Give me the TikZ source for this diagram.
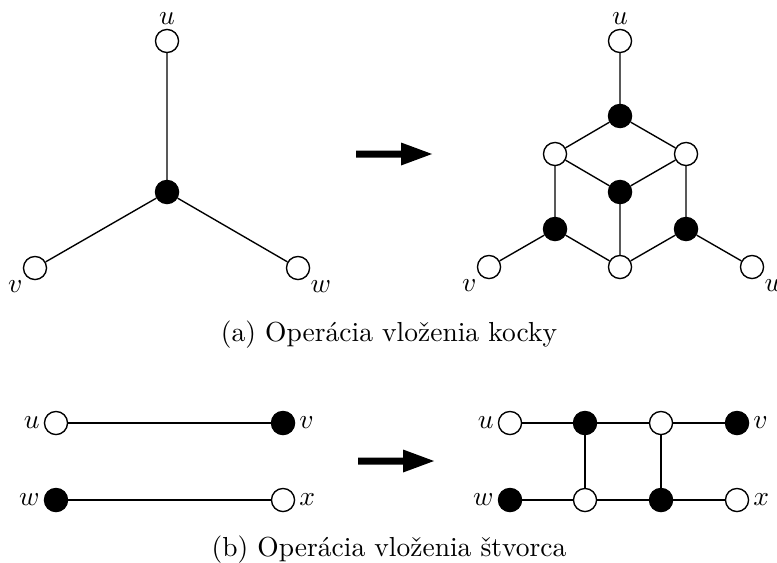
\documentclass[tikz,border=0pt]{standalone}
\begin{document}
\begin{tikzpicture}[x=0.3636pt,y=-0.3636pt,
  wv/.style={circle,draw,fill=white,minimum size=8.4pt,inner sep=0pt,line width=0.5pt},
  bv/.style={wv,fill=black},
  edge/.style={line width=0.5pt},
  every label/.style={inner sep=1pt},
  label distance=0.3pt,
  bigarrow/.style={fill=black}]
\useasboundingbox (0,0) rectangle (777,562);

% ---- (a) left
\node[wv,label=above:$u$] (au) at (167,41) {};
\node[bv] (ac) at (167,192) {};
\node[wv,label=below left:$v$] (av) at (35,268) {};
\node[wv,label=below right:$w$] (aw) at (298,268) {};
\draw[edge] (au) -- (ac) (ac) -- (av) (ac) -- (aw);

% ---- (a) right
\node[wv,label=above:$u$] (bu) at (620,41) {};
\node[bv] (bt) at (620,116) {};
\node[wv] (bl) at (555,154) {};
\node[wv] (br) at (686,154) {};
\node[bv] (bc) at (620,192) {};
\node[bv] (bbl) at (555,229) {};
\node[bv] (bbr) at (686,229) {};
\node[wv] (bb) at (620,267) {};
\node[wv,label=below left:$v$] (bv) at (489,267) {};
\node[wv,label=below right:$w$] (bw) at (752,267) {};
\draw[edge] (bu) -- (bt) (bt) -- (bl) (bt) -- (br) (bl) -- (bc) (br) -- (bc)
  (bl) -- (bbl) (br) -- (bbr) (bc) -- (bb) (bbl) -- (bb) (bbr) -- (bb)
  (bbl) -- (bv) (bbr) -- (bw);

% arrow (a)
\coordinate (arA) at (356,154);
\fill[bigarrow] (arA) ++(0,-3.5) -- ++(45,0) -- ++(0,-8) -- ++(31,11.5) -- ++(-31,11.5) -- ++(0,-8) -- ++(-45,0) -- cycle;

\node (capa) at (389,335) {(a) Operácia vloženia kocky};

% ---- (b) left
\node[wv,label=left:$u$] (cu) at (56,423) {};
\node[bv,label=right:$v$] (cv) at (283,423) {};
\node[bv,label=left:$w$] (cw) at (56,500) {};
\node[wv,label=right:$x$] (cx) at (283,500) {};
\draw[edge] (cu) -- (cv) (cw) -- (cx);

% ---- (b) right
\node[wv,label=left:$u$] (du) at (510,423) {};
\node[bv] (d2) at (585,423) {};
\node[wv] (d3) at (661,423) {};
\node[bv,label=right:$v$] (dv) at (737,423) {};
\node[bv,label=left:$w$] (dw) at (510,500) {};
\node[wv] (e2) at (585,500) {};
\node[bv] (e3) at (661,500) {};
\node[wv,label=right:$x$] (dx) at (737,500) {};
\draw[edge] (du) -- (d2) (d2) -- (d3) (d3) -- (dv)
  (dw) -- (e2) (e2) -- (e3) (e3) -- (dx)
  (d2) -- (e2) (d3) -- (e3);

% arrow (b)
\coordinate (arB) at (358,461);
\fill[bigarrow] (arB) ++(0,-3.5) -- ++(45,0) -- ++(0,-8) -- ++(31,11.5) -- ++(-31,11.5) -- ++(0,-8) -- ++(-45,0) -- cycle;

\node (capb) at (389,550) {(b) Operácia vloženia štvorca};
\end{tikzpicture}
\end{document}
